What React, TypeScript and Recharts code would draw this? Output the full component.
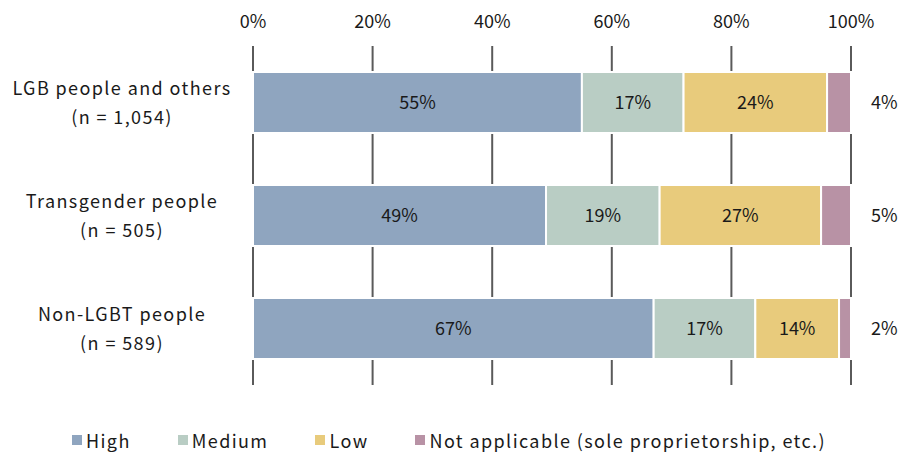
import React from 'react';
import { BarChart, Bar, XAxis, YAxis, CartesianGrid, LabelList } from 'recharts';

const groups = ['LGB people and others', 'Transgender people', 'Non-LGBT people'];
const sampleSizes = ['(n = 1,054)', '(n = 505)', '(n = 589)'];
const high = [55, 49, 67];
const medium = [17, 19, 17];
const low = [24, 27, 14];
const notApplicable = [4, 5, 2];
const xTicks = [0, 20, 40, 60, 80, 100];

const seriesNames = ['High', 'Medium', 'Low', 'Not applicable (sole proprietorship, etc.)'];
const seriesColors = ['#8fa5bf', '#b9cdc4', '#e8cb7c', '#b892a5'];
const seriesKeys = ['high', 'medium', 'low', 'na'];

const data = groups.map((g, i) => ({
  group: g,
  n: sampleSizes[i],
  high: high[i],
  medium: medium[i],
  low: low[i],
  na: notApplicable[i],
}));

const FONT = '"Noto Sans CJK JP", "Noto Sans", sans-serif';
const SPACING = 1.4;

const GroupTick = (props: any) => {
  const { y, payload } = props;
  const idx = groups.indexOf(payload.value);
  return (
    <text textAnchor="middle" fontFamily={FONT} fontSize={18} fill="#1a1a1a" style={{ letterSpacing: SPACING }}>
      <tspan x={122} y={y - 8}>{payload.value}</tspan>
      <tspan x={122} y={y + 21}>{sampleSizes[idx]}</tspan>
    </text>
  );
};

const pct = (v: any) => `${v}%`;

export default function App() {
  return (
    <div style={{ position: 'absolute', left: 0, top: 0, width: 898, height: 454, background: '#fff', fontFamily: FONT }}>
      <BarChart
        width={898}
        height={454}
        data={data}
        layout="vertical"
        margin={{ top: 0, right: 47, bottom: 69, left: 0 }}
        barCategoryGap={26}
      >
        <CartesianGrid horizontal={false} stroke="#5a5a5a" strokeWidth={2} />
        <XAxis
          type="number"
          orientation="top"
          domain={[0, 100]}
          ticks={xTicks}
          tickFormatter={pct}
          axisLine={false}
          tickLine={false}
          height={46}
          tickMargin={12}
          tick={{ fontSize: 18, fill: '#1a1a1a', fontFamily: FONT }}
        />
        <YAxis
          type="category"
          dataKey="group"
          width={253}
          axisLine={false}
          tickLine={false}
          tick={<GroupTick />}
        />
        {seriesKeys.map((k, i) => (
          <Bar
            key={k}
            dataKey={k}
            name={seriesNames[i]}
            stackId="s"
            fill={seriesColors[i]}
            stroke="#fff"
            strokeWidth={2}
            isAnimationActive={false}
          >
            <LabelList
              dataKey={k}
              position={i === 3 ? 'right' : 'center'}
              offset={i === 3 ? 20 : 0}
              formatter={pct}
              style={{ fontSize: 18, fill: '#1a1a1a', fontFamily: FONT }}
            />
          </Bar>
        ))}
      </BarChart>
      <div
        style={{
          position: 'absolute',
          top: 428,
          left: 0,
          width: 898,
          display: 'flex',
          justifyContent: 'center',
          gap: 47,
          fontSize: 18,
          color: '#1a1a1a',
          lineHeight: '24px',
          letterSpacing: SPACING,
        }}
      >
        {seriesNames.map((n, i) => (
          <div key={n} style={{ display: 'flex', alignItems: 'center' }}>
            <span style={{ display: 'inline-block', width: 10, height: 10, background: seriesColors[i], marginRight: 4 }} />
            <span>{n}</span>
          </div>
        ))}
      </div>
    </div>
  );
}
